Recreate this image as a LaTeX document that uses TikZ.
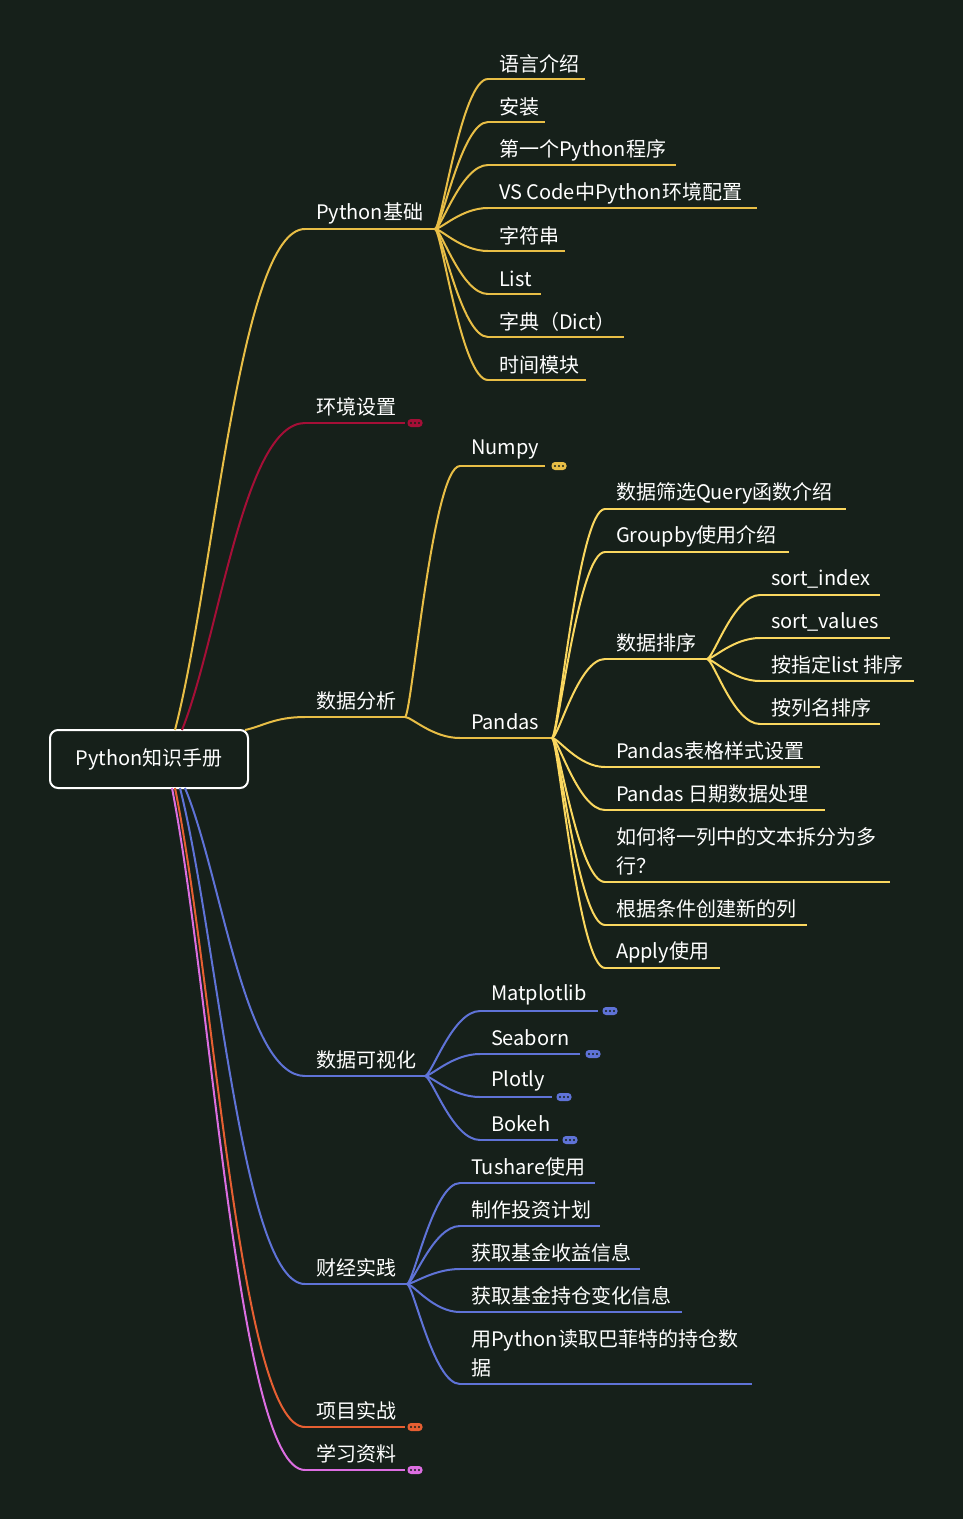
\documentclass[tikz,border=0pt]{standalone}
\usepackage{fontspec}
\usetikzlibrary{calc}
\setmainfont{Noto Sans CJK SC}
\begin{document}
\begin{tikzpicture}[x=1pt,y=-1pt,line width=2pt,
  lbl/.style={text=white,font=\fontsize{20}{29}\selectfont,inner sep=0pt,align=left},
  mk/.style={rounded corners=3.5pt,minimum width=15pt,minimum height=8pt,inner sep=0pt,draw=none}]
\definecolor{bg}{RGB}{22,32,26}
\definecolor{ycol}{RGB}{232,190,70}
\definecolor{pcol}{RGB}{250,215,95}
\definecolor{rcol}{RGB}{165,15,55}
\definecolor{bcol}{RGB}{95,115,215}
\definecolor{ocol}{RGB}{230,95,50}
\definecolor{kcol}{RGB}{220,110,225}
\fill[bg] (0,0) rectangle (963,1519);
\useasboundingbox (0,0) rectangle (963,1519);
\newcommand\lf[6]{%
 \coordinate (#1-s) at (#2,#4); \coordinate (#1-e) at (#5,#4);
 \node[lbl,anchor=west] (#1) at (#2+10,#3) {#6};
 \draw (#1-s) -- (#1-e);}
\newcommand\cv[5]{\draw let \p1=(#1),\p2=(#2),\n1={\x2-\x1},\n2={\y2-\y1} in
 (#1) .. controls ($(\p1)+(#3*\n1,#4*\n2)$) and ($(\x1+#5*\n1,\y2)$) .. (#2);}
\newcommand\br[2]{\cv{#1}{#2}{.12}{0}{.5}}
\newcommand\mkr[3]{\node[mk,fill=#3] (#1) at (#2) {};
 \foreach \d in {-4,0,4}{\fill[bg] ($(#1)+(\d,0)$) circle (1.2pt);}}
% root
\node[draw=white,line width=2pt,rounded corners=8pt,minimum width=198pt,minimum height=58pt,lbl] (root) at (149,759) {Python知识手册};
\coordinate (rt1) at (175,730);\coordinate (rt2) at (182,730);\coordinate (rt3) at (245,730);
\coordinate (rb1) at (185,788);\coordinate (rb2) at (180,788);\coordinate (rb3) at (175,788);\coordinate (rb4) at (172,788);
\begin{scope}[draw=ycol]
\lf{pb}{305}{213}{229}{435}{Python基础}
\cv{rt1}{pb-s}{.3}{.3}{.5}
\lf{a1}{488}{64}{79}{585}{语言介绍}
\lf{a2}{488}{107}{122}{545}{安装}
\lf{a3}{488}{150}{165}{676}{第一个Python程序}
\lf{a4}{488}{193}{208}{757}{VS Code中Python环境配置}
\lf{a5}{488}{236}{251}{565}{字符串}
\lf{a6}{488}{279}{294}{541}{List}
\lf{a7}{488}{322}{337}{624}{字典（Dict）}
\lf{a8}{488}{365}{380}{586}{时间模块}
\foreach \i in {1,...,8}{\br{pb-e}{a\i-s}}
\lf{da}{305}{701}{717}{405}{数据分析}
\cv{rt3}{da-s}{.3}{.3}{.5}
\lf{np}{460}{450}{466}{545}{Numpy}
\br{da-e}{np-s}
\mkr{npm}{559,466}{ycol}
\lf{pd}{460}{722}{738}{552}{Pandas}
\br{da-e}{pd-s}
\end{scope}
\begin{scope}[draw=rcol]
\lf{env}{305}{407}{423}{405}{环境设置}
\cv{rt2}{env-s}{.3}{.3}{.5}
\mkr{envm}{415,423}{rcol}
\end{scope}
\begin{scope}[draw=pcol]
\lf{p1}{605}{493}{509}{846}{数据筛选Query函数介绍}
\lf{p2}{605}{536}{552}{789}{Groupby使用介绍}
\lf{p3}{605}{643}{659}{707}{数据排序}
\lf{p4}{605}{751}{767}{820}{Pandas表格样式设置}
\lf{p5}{605}{794}{810}{825}{Pandas 日期数据处理}
\lf{p6}{605}{851}{882}{890}{如何将一列中的文本拆分为多\\行？}
\lf{p7}{605}{909}{925}{807}{根据条件创建新的列}
\lf{p8}{605}{952}{968}{720}{Apply使用}
\foreach \i in {1,...,8}{\br{pd-e}{p\i-s}}
\lf{s1}{760}{579}{595}{880}{sort\_index}
\lf{s2}{760}{622}{638}{890}{sort\_values}
\lf{s3}{760}{665}{681}{914}{按指定list 排序}
\lf{s4}{760}{708}{724}{880}{按列名排序}
\foreach \i in {1,...,4}{\br{p3-e}{s\i-s}}
\end{scope}
\begin{scope}[draw=bcol]
\lf{dv}{305}{1060}{1076}{425}{数据可视化}
\cv{rb1}{dv-s}{.3}{.3}{.5}
\lf{v1}{480}{995}{1011}{598}{Matplotlib}\mkr{v1m}{610,1011}{bcol}
\lf{v2}{480}{1038}{1054}{580}{Seaborn}\mkr{v2m}{593,1054}{bcol}
\lf{v3}{480}{1081}{1097}{552}{Plotly}\mkr{v3m}{564,1097}{bcol}
\lf{v4}{480}{1124}{1140}{558}{Bokeh}\mkr{v4m}{570,1140}{bcol}
\foreach \i in {1,...,4}{\br{dv-e}{v\i-s}}
\lf{fp}{305}{1268}{1284}{407}{财经实践}
\cv{rb2}{fp-s}{.3}{.3}{.5}
\lf{f1}{460}{1167}{1183}{595}{Tushare使用}
\lf{f2}{460}{1210}{1226}{600}{制作投资计划}
\lf{f3}{460}{1253}{1269}{640}{获取基金收益信息}
\lf{f4}{460}{1296}{1312}{682}{获取基金持仓变化信息}
\lf{f5}{460}{1353}{1384}{752}{用Python读取巴菲特的持仓数\\据}
\foreach \i in {1,...,5}{\br{fp-e}{f\i-s}}
\end{scope}
\begin{scope}[draw=ocol]
\lf{xm}{305}{1411}{1427}{405}{项目实战}
\cv{rb3}{xm-s}{.3}{.3}{.5}
\mkr{xmm}{415,1427}{ocol}
\end{scope}
\begin{scope}[draw=kcol]
\lf{xx}{305}{1454}{1470}{405}{学习资料}
\cv{rb4}{xx-s}{.3}{.3}{.5}
\mkr{xxm}{415,1470}{kcol}
\end{scope}
\end{tikzpicture}
\end{document}
